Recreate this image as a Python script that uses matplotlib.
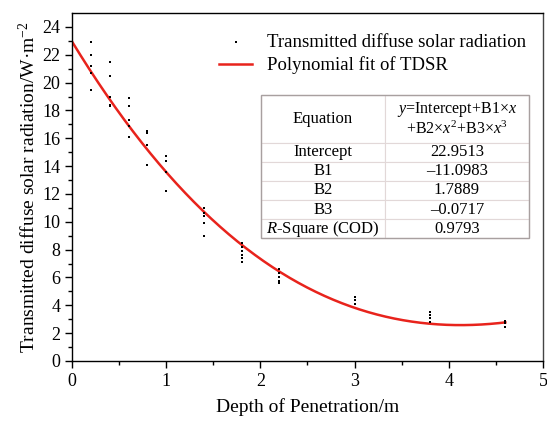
import numpy as np
import matplotlib
matplotlib.use("Agg")
import matplotlib.pyplot as plt
from matplotlib.patches import Rectangle

plt.rcParams['font.family'] = ['Liberation Serif', 'DejaVu Serif']
plt.rcParams['mathtext.fontset'] = 'custom'
plt.rcParams['mathtext.rm'] = 'Liberation Serif'
plt.rcParams['mathtext.it'] = 'Liberation Serif:italic'

# measured depth (m) and transmitted diffuse solar radiation (W/m2)
depth_0 = [0.0, 0.0, 0.0]
tdsr_0 = [22.3, 21.0, 19.6]
depth_02 = [0.2] * 5
tdsr_02 = [22.9, 21.95, 21.2, 20.7, 19.5]
depth_04 = [0.4] * 5
tdsr_04 = [21.5, 20.5, 19.0, 18.4, 18.3]
depth_06 = [0.6] * 5
tdsr_06 = [18.9, 18.3, 17.3, 16.85, 16.1]
depth_08 = [0.8] * 4
tdsr_08 = [16.5, 16.4, 15.5, 14.1]
depth_10 = [1.0] * 4
tdsr_10 = [14.7, 14.4, 13.6, 12.2]
depth_14 = [1.4] * 5
tdsr_14 = [11.0, 10.6, 10.4, 9.9, 9.0]
depth_18 = [1.8] * 6
tdsr_18 = [8.5, 8.2, 7.9, 7.6, 7.4, 7.1]
depth_22 = [2.2] * 5
tdsr_22 = [6.6, 6.3, 6.0, 5.75, 5.6]
depth_30 = [3.0] * 3
tdsr_30 = [4.6, 4.4, 4.1]
depth_38 = [3.8] * 4
tdsr_38 = [3.5, 3.3, 3.06, 2.8]
depth_46 = [4.6] * 3
tdsr_46 = [2.9, 2.7, 2.45]

depth = depth_0 + depth_02 + depth_04 + depth_06 + depth_08 + depth_10 + \
        depth_14 + depth_18 + depth_22 + depth_30 + depth_38 + depth_46
tdsr = tdsr_0 + tdsr_02 + tdsr_04 + tdsr_06 + tdsr_08 + tdsr_10 + \
       tdsr_14 + tdsr_18 + tdsr_22 + tdsr_30 + tdsr_38 + tdsr_46

# fit coefficients from the table
intercept = 22.9513
b1 = -11.0983
b2 = 1.7889
b3 = -0.0717
r_square = 0.9793

table_labels = ["Intercept", "B1", "B2", "B3", "$R$-Square (COD)"]
table_values = ["22.9513", "–11.0983", "1.7889", "–0.0717", "0.9793"]

# fitted curve
x_fit = np.linspace(0, 4.6, 200)
y_fit = intercept + b1 * x_fit + b2 * x_fit**2 + b3 * x_fit**3

fig = plt.figure(figsize=(5.47, 4.23), dpi=100)
ax = fig.add_axes([0.1316, 0.1466, 0.8611, 0.8227])

ax.plot(x_fit, y_fit, color="#e8231c", linewidth=1.8, label="Polynomial fit of TDSR", zorder=2)
ax.scatter(depth, tdsr, marker="s", s=3.2, color="black", linewidths=0,
           label="Transmitted diffuse solar radiation", zorder=3)

ax.set_xlim(0, 5)
ax.set_ylim(0, 25)
ax.set_xticks(np.arange(0, 6, 1))
ax.set_xticks(np.arange(0.5, 5, 1), minor=True)
ax.set_yticks(np.arange(0, 25, 2))
ax.set_yticks(np.arange(1, 25, 2), minor=True)
ax.tick_params(which="both", direction="out", top=False, right=False, labelsize=13)
ax.tick_params(which="major", length=5, width=1)
ax.tick_params(which="minor", length=3, width=1)
for sp in ax.spines.values():
    sp.set_linewidth(1.0)
ax.spines["right"].set_color("#444444")

ax.set_xlabel("Depth of Penetration/m", fontsize=14, labelpad=6)
ax.set_ylabel("Transmitted diffuse solar radiation/W·m$^{-2}$", fontsize=14, labelpad=2)

handles, labels = ax.get_legend_handles_labels()
leg = ax.legend(handles[::-1], labels[::-1], loc="upper right", frameon=False, fontsize=13.5,
                bbox_to_anchor=(1.009, 1.0), handlelength=1.8, handletextpad=0.8,
                labelspacing=0.3, borderaxespad=0.7, markerscale=1.2)

# parameter table
cell_text = [["Equation", "$y$=Intercept+B1×$x$\n+B2×$x^2$+B3×$x^3$"]]
for lab, val in zip(table_labels, table_values):
    cell_text.append([lab, val])

tb_left, tb_bottom, tb_w, tb_h = 0.4006, 0.3526, 0.5696, 0.4118
tbl = ax.table(cellText=cell_text, colWidths=[0.463, 0.537],
               cellLoc="center", bbox=[tb_left, tb_bottom, tb_w, tb_h], zorder=4)
tbl.auto_set_font_size(False)
header_h = 0.333
row_h = (1 - header_h) / 5
for (r, c), cell in tbl.get_celld().items():
    cell.set_edgecolor("#e2d8d8")
    cell.set_linewidth(0.8)
    cell.set_facecolor("white")
    cell.set_height(tb_h * (header_h if r == 0 else row_h))
    cell.get_text().set_fontsize(12)
    if r == 0 and c == 1:
        cell.get_text().set_fontsize(11.5)
        cell.get_text().set_linespacing(1.15)
ax.add_patch(Rectangle((tb_left, tb_bottom), tb_w, tb_h, transform=ax.transAxes,
                       fill=False, edgecolor="#a8a0a0", linewidth=1.0, zorder=5))

fig.savefig("out.png", dpi=100)
